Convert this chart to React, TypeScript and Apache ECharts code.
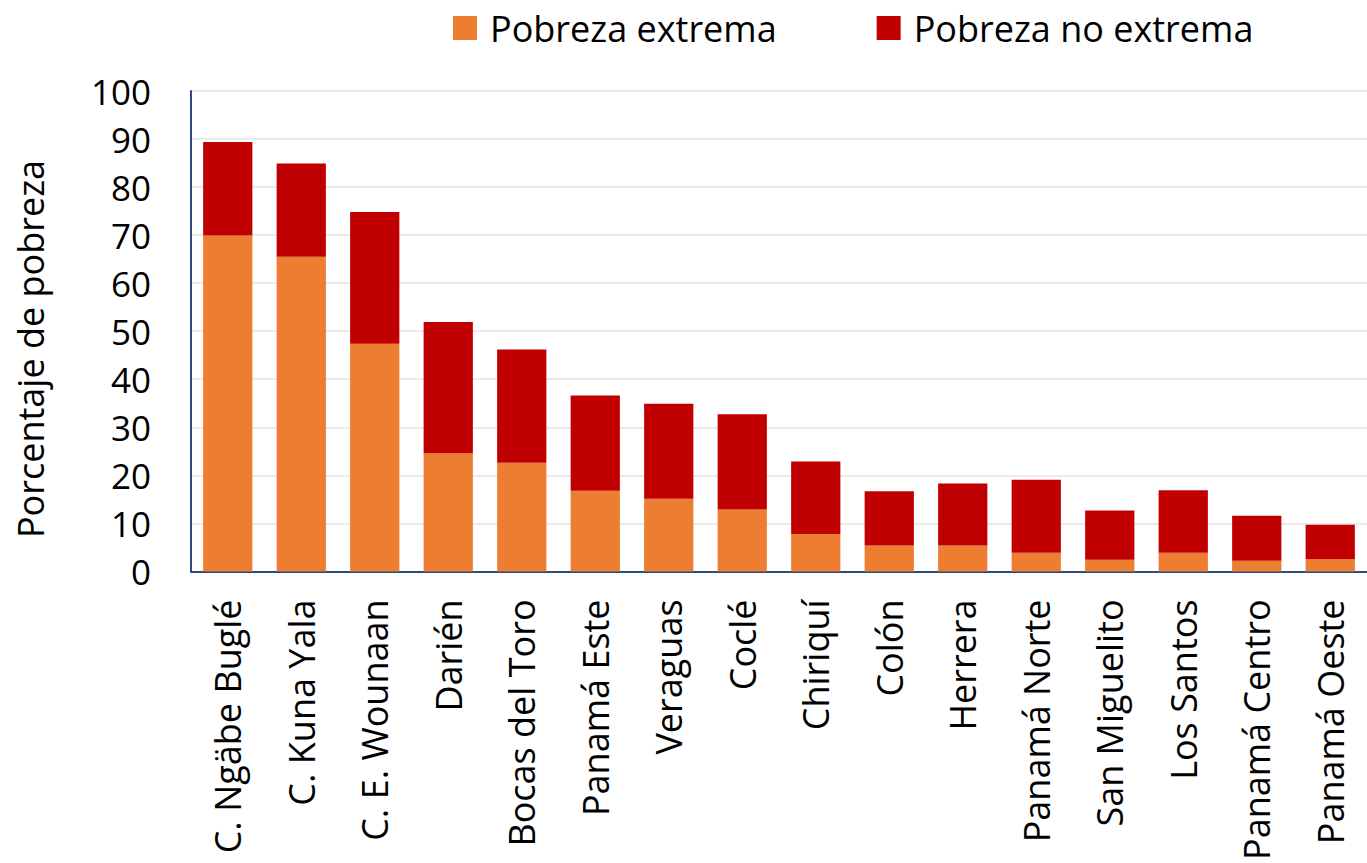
import React, { useEffect, useRef } from "react";
import * as echarts from "echarts";

const categories = [
  "C. Ngäbe Buglé",
  "C. Kuna Yala",
  "C. E. Wounaan",
  "Darién",
  "Bocas del Toro",
  "Panamá Este",
  "Veraguas",
  "Coclé",
  "Chiriquí",
  "Colón",
  "Herrera",
  "Panamá Norte",
  "San Miguelito",
  "Los Santos",
  "Panamá Centro",
  "Panamá Oeste",
];

const extrema = [69.9, 65.5, 47.4, 24.6, 22.6, 16.8, 15.1, 12.9, 7.8, 5.4, 5.4, 3.9, 2.4, 3.9, 2.2, 2.6];
const total = [89.4, 84.9, 74.8, 51.9, 46.2, 36.6, 34.9, 32.7, 22.9, 16.7, 18.3, 19.1, 12.7, 16.9, 11.6, 9.7];
const noExtrema = total.map((t, i) => +(t - extrema[i]).toFixed(1));

const yAxisTitle = "Porcentaje de pobreza";
const FONT = "Open Sans";

export default function App() {
  const ref = useRef<HTMLDivElement>(null);
  useEffect(() => {
    if (!ref.current) return;
    const chart = echarts.init(ref.current, undefined, { renderer: "svg" });
    chart.setOption({
      animation: false,
      textStyle: { fontFamily: FONT },
      legend: {
        top: 10,
        left: 453,
        padding: 0,
        itemWidth: 24,
        itemHeight: 24,
        itemGap: 100,
        icon: "rect",
        textStyle: { fontSize: 36, color: "#000", fontFamily: FONT, padding: [0, 0, 0, 8] },
        data: ["Pobreza extrema", "Pobreza no extrema"],
      },
      graphic: [
        {
          type: "text",
          x: 30,
          y: 349,
          rotation: Math.PI / 2,
          style: {
            text: yAxisTitle,
            fontSize: 36,
            fontFamily: FONT,
            fill: "#000",
            align: "center",
            verticalAlign: "middle",
          },
        },
      ],
      grid: { left: 191, top: 91, height: 482, right: -13, containLabel: false },
      xAxis: {
        type: "category",
        data: categories,
        axisLine: { show: true, lineStyle: { color: "#2C4A7C", width: 2 } },
        axisTick: { show: false },
        axisLabel: {
          rotate: 90,
          fontSize: 36,
          color: "#000",
          fontFamily: FONT,
          margin: 28,
          interval: 0,
        },
      },
      yAxis: {
        type: "value",
        min: 0,
        max: 100,
        interval: 10,
        axisLine: { show: true, lineStyle: { color: "#2C4A7C", width: 2 } },
        axisTick: { show: false },
        axisLabel: { fontSize: 35, color: "#000", fontFamily: FONT, margin: 40 },
        splitLine: { show: true, lineStyle: { color: "#EBEBEB", width: 2 } },
      },
      series: [
        {
          name: "Pobreza extrema",
          type: "bar",
          stack: "p",
          data: extrema,
          barWidth: "67%",
          itemStyle: { color: "#ED7D31" },
        },
        {
          name: "Pobreza no extrema",
          type: "bar",
          stack: "p",
          data: noExtrema,
          barWidth: "67%",
          itemStyle: { color: "#C00000" },
        },
      ],
    });
    return () => chart.dispose();
  }, []);
  return <div ref={ref} style={{ width: 1367, height: 863, position: "absolute", left: 0, top: 0 }} />;
}
